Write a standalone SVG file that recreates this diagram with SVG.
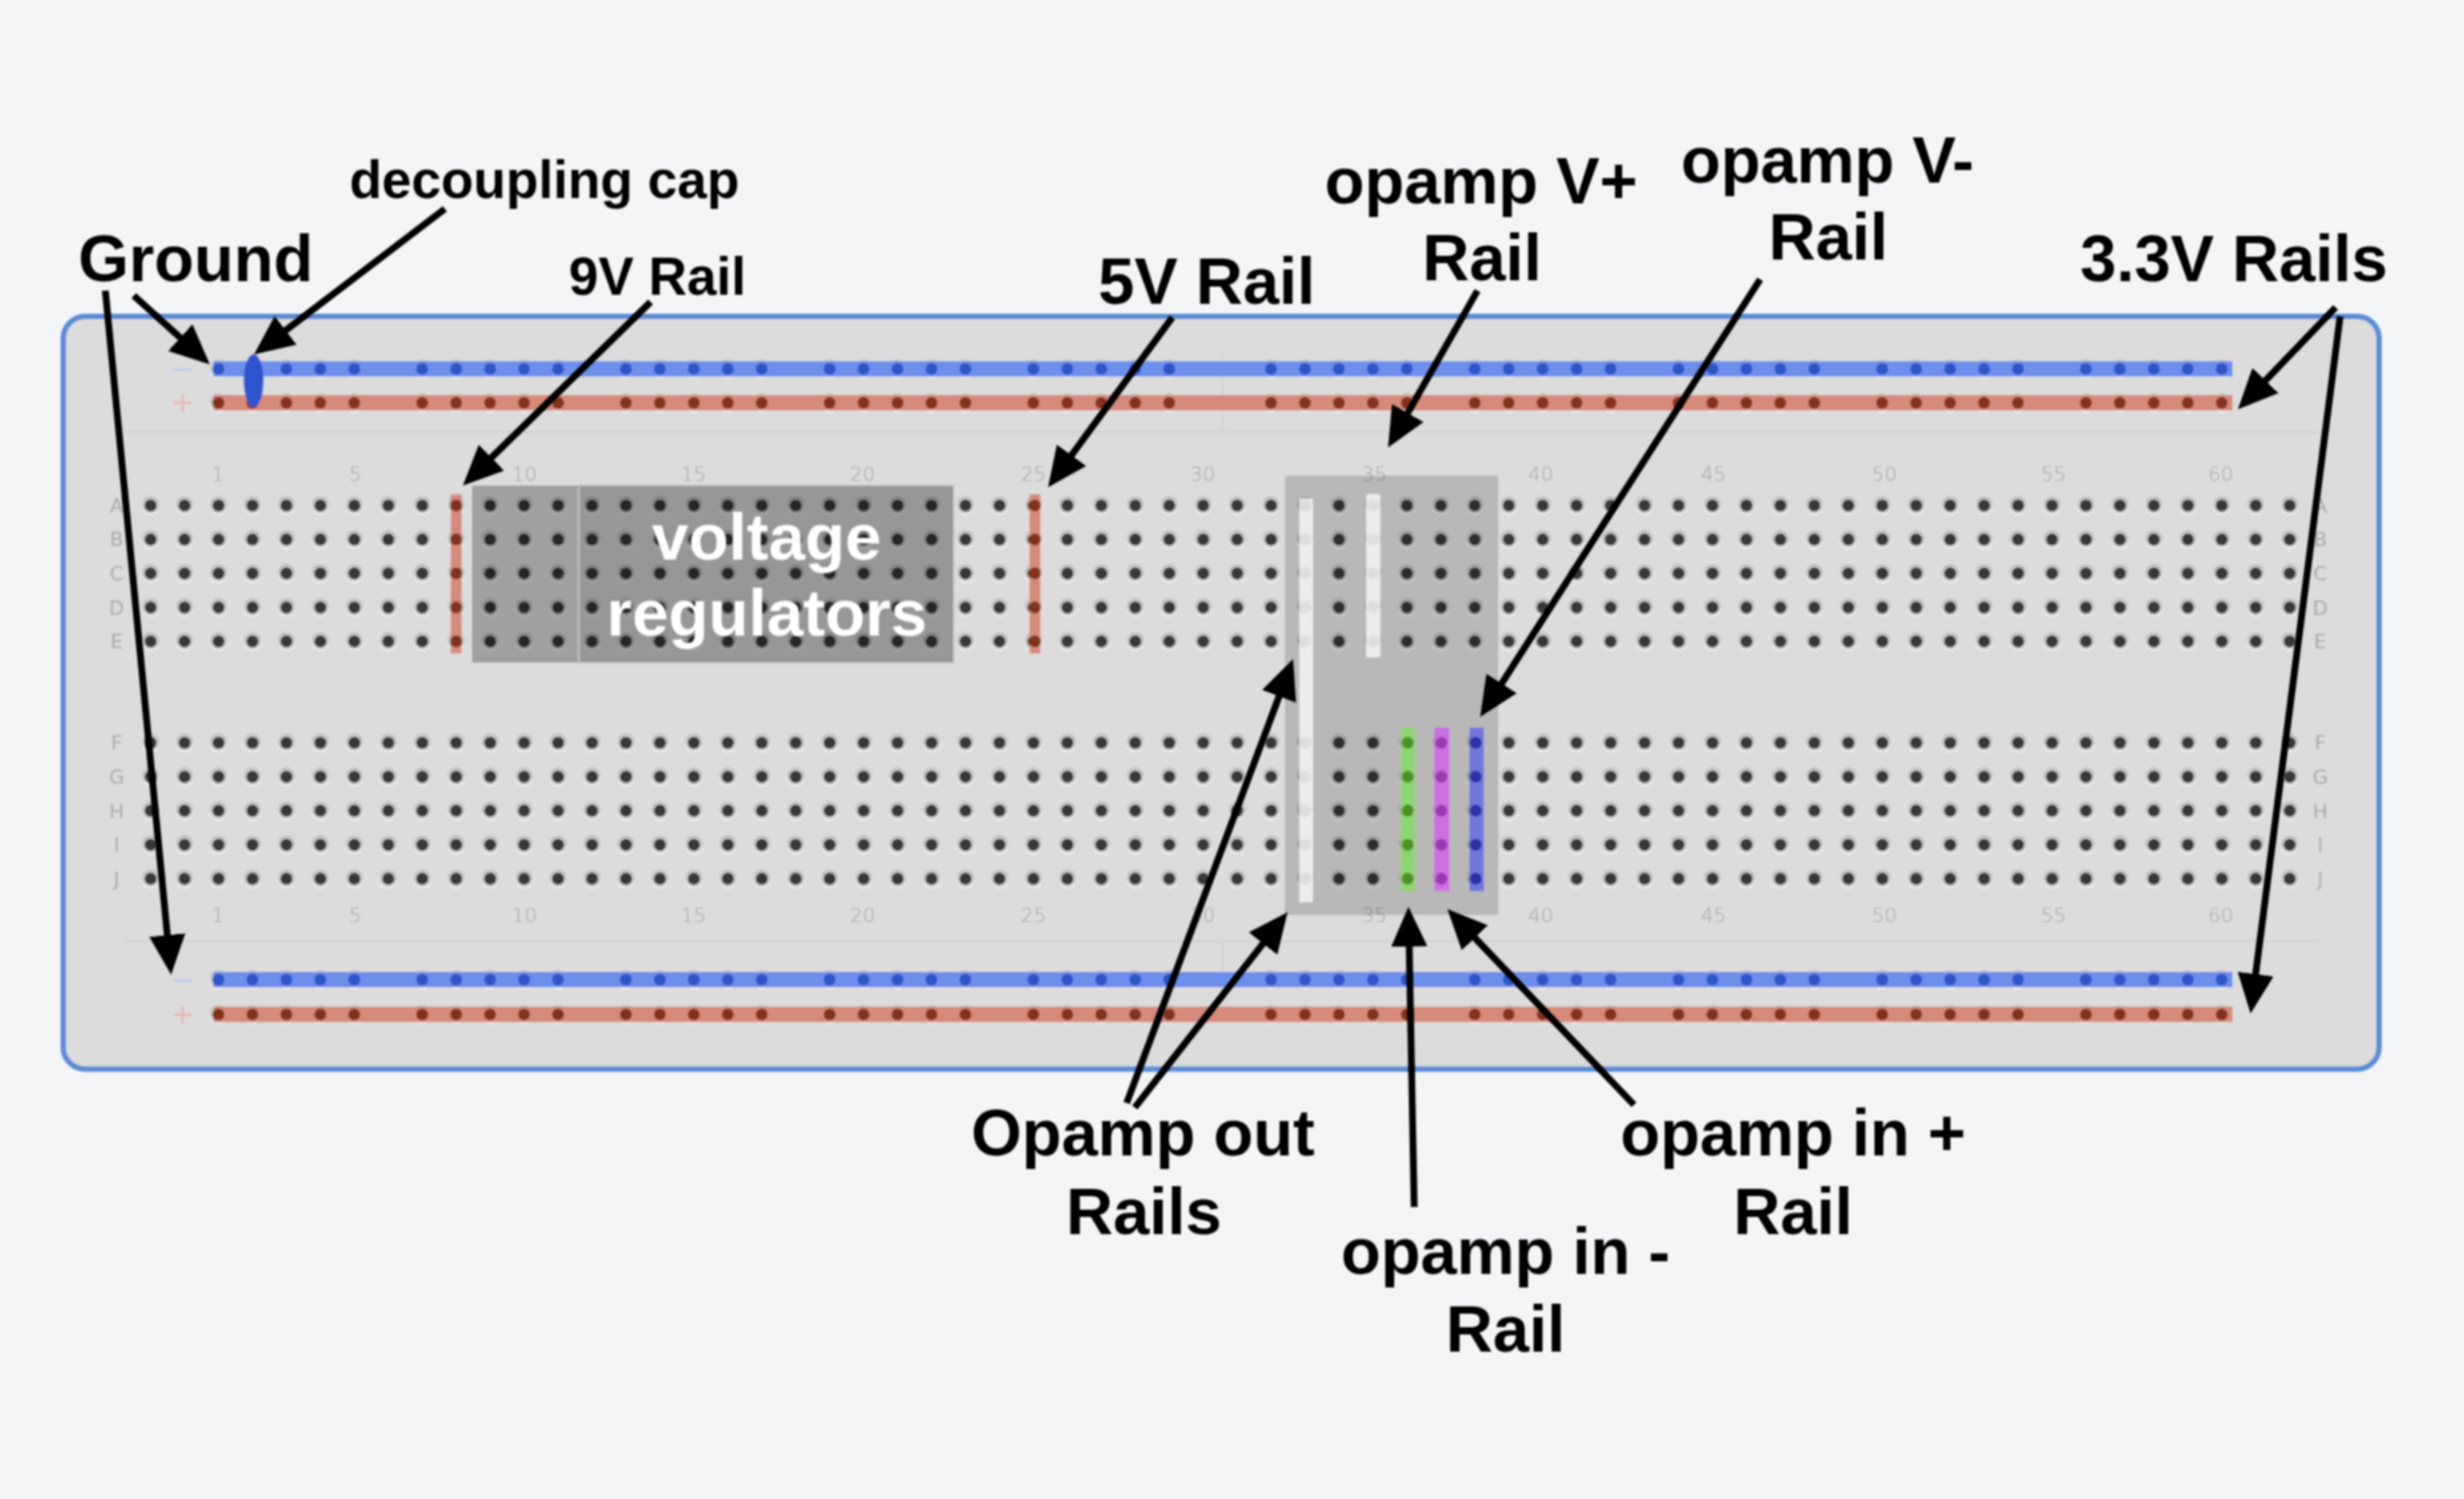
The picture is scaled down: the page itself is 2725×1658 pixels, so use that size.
<svg xmlns="http://www.w3.org/2000/svg" xmlns:xlink="http://www.w3.org/1999/xlink" width="2725" height="1658" viewBox="0 0 2725 1658">
<style>
.lbl{font-family:"Liberation Sans",Arial,sans-serif;font-weight:700;fill:#000;text-anchor:middle}
.big{font-size:72px}
.sm{font-size:58.8px}
.num{font-family:"DejaVu Sans","Liberation Sans",sans-serif;font-size:22px;font-weight:200;fill:#9c9c9c;text-anchor:middle}
.let{font-family:"DejaVu Sans","Liberation Sans",sans-serif;font-size:22px;fill:#a8a8a8;text-anchor:middle}
.arrow{stroke:#000;stroke-width:7.5;fill:none;marker-end:url(#head)}
.rv{fill:#d68a7a}
.rb{fill:#6d8fec}
</style>
<defs>
<filter id="soft" filterUnits="userSpaceOnUse" x="0" y="0" width="2725" height="1658"><feGaussianBlur stdDeviation="1.2"/></filter>
<filter id="soft2" filterUnits="userSpaceOnUse" x="0" y="0" width="2725" height="1658"><feGaussianBlur stdDeviation="0.8"/></filter>
<marker id="head" markerUnits="userSpaceOnUse" markerWidth="46" markerHeight="42" refX="10" refY="20" orient="auto"><path d="M0,0L44,20L0,40Z" fill="#000"/></marker>
<g id="halo"><circle cy="1.5" r="10" fill="#e8e8e8"/><circle cy="-1" r="9.5" fill="#c4c4c4"/></g>
<circle id="core" r="6.6" fill="currentColor"/>
<g id="h"><use href="#halo"/><use href="#core" color="#383838"/></g>
<g id="c5"><use href="#h"/><use href="#h" y="37.6"/><use href="#h" y="75.2"/><use href="#h" y="112.8"/><use href="#h" y="150.4"/></g>
<g id="b4"><use href="#c5"/><use href="#c5" x="37.55"/><use href="#c5" x="75.1"/><use href="#c5" x="112.65"/></g>
<g id="b16"><use href="#b4"/><use href="#b4" x="150.2"/><use href="#b4" x="300.4"/><use href="#b4" x="450.6"/></g>
<g id="b64"><use href="#b16"/><use href="#b16" x="600.8"/><use href="#b16" x="1201.6"/><use href="#b16" x="1802.4"/></g>
<g id="hg5"><use href="#halo"/><use href="#halo" x="37.55"/><use href="#halo" x="75.1"/><use href="#halo" x="112.65"/><use href="#halo" x="150.2"/></g>
<g id="hh"><use href="#hg5"/><use href="#hg5" x="225.3"/><use href="#hg5" x="450.6"/><use href="#hg5" x="675.9"/><use href="#hg5" x="901.2"/></g>
<g id="hrail"><use href="#hh"/><use href="#hh" x="1164.05"/></g>
<g id="cg5"><use href="#core"/><use href="#core" x="37.55"/><use href="#core" x="75.1"/><use href="#core" x="112.65"/><use href="#core" x="150.2"/></g>
<g id="ch"><use href="#cg5"/><use href="#cg5" x="225.3"/><use href="#cg5" x="450.6"/><use href="#cg5" x="675.9"/><use href="#cg5" x="901.2"/></g>
<g id="crail"><use href="#ch"/><use href="#ch" x="1164.05"/></g>
<g id="cc"><use href="#core"/><use href="#core" y="37.6"/><use href="#core" y="75.2"/><use href="#core" y="112.8"/><use href="#core" y="150.4"/></g>
</defs>
<rect width="2725" height="1658" fill="#f4f5f7"/>
<g id="board" filter="url(#soft)">
<rect x="70" y="350" width="2561" height="832.5" rx="24" fill="#dcdcdc" stroke="#5b8dd6" stroke-width="6"/>
<g stroke="#d2d2d2" stroke-width="2" fill="none">
<path d="M138,478H2565M138,1041H2565M1352,391V478M1352,1041V1121"/>
</g>
<g id="columnNumbers" class="num">
<text x="241" y="532">1</text><text x="393" y="532">5</text><text x="580" y="532">10</text><text x="767" y="532">15</text><text x="954" y="532">20</text><text x="1143" y="532">25</text><text x="1330" y="532">30</text><text x="1520" y="532">35</text><text x="1704" y="532">40</text><text x="1895" y="532">45</text><text x="2084" y="532">50</text><text x="2271" y="532">55</text><text x="2456" y="532">60</text>
<text x="241" y="1020">1</text><text x="393" y="1020">5</text><text x="580" y="1020">10</text><text x="767" y="1020">15</text><text x="954" y="1020">20</text><text x="1143" y="1020">25</text><text x="1330" y="1020">30</text><text x="1520" y="1020">35</text><text x="1704" y="1020">40</text><text x="1895" y="1020">45</text><text x="2084" y="1020">50</text><text x="2271" y="1020">55</text><text x="2456" y="1020">60</text>
</g>
<g id="rowLetters" class="let">
<text x="129" y="567">A</text><text x="129" y="604">B</text><text x="129" y="642">C</text><text x="129" y="680">D</text><text x="129" y="717">E</text>
<text x="129" y="829">F</text><text x="129" y="867">G</text><text x="129" y="905">H</text><text x="129" y="942">I</text><text x="129" y="980">J</text>
<text x="2566" y="567">A</text><text x="2566" y="604">B</text><text x="2566" y="642">C</text><text x="2566" y="680">D</text><text x="2566" y="717">E</text>
<text x="2566" y="829">F</text><text x="2566" y="867">G</text><text x="2566" y="905">H</text><text x="2566" y="942">I</text><text x="2566" y="980">J</text>
</g>
<g id="railSigns" font-family="DejaVu Sans, sans-serif" font-size="32" text-anchor="middle">
<text x="202" y="418.5" fill="#b5cbea">−</text><text x="202" y="456" fill="#ebb6b0">+</text>
<text x="202" y="1095" fill="#b5cbea">−</text><text x="202" y="1132.5" fill="#ebb6b0">+</text>
</g>
<g id="rails">
<use href="#hrail" x="241.6" y="408"/><use href="#hrail" x="241.6" y="445.5"/><use href="#hrail" x="241.6" y="1083.5"/><use href="#hrail" x="241.6" y="1122"/>
<rect class="rb" x="236" y="399.5" width="2233" height="17"/><rect class="rv" x="236" y="437" width="2233" height="17"/>
<rect class="rb" x="236" y="1075" width="2233" height="17"/><rect class="rv" x="236" y="1113.5" width="2233" height="17"/>
<use href="#crail" x="241.6" y="408" color="#2e55c8"/><use href="#crail" x="241.6" y="445.5" color="#85301f"/><use href="#crail" x="241.6" y="1083.5" color="#2e55c8"/><use href="#crail" x="241.6" y="1122" color="#85301f"/>
</g>
<g id="holes"><use href="#b64" x="166.6" y="559"/><use href="#b64" x="166.6" y="821.5"/></g>
<g id="rail9V"><rect class="rv" x="498.5" y="546.7" width="12" height="176"/><use href="#cc" x="504.5" y="559" color="#85301f"/></g>
<rect id="regA" x="522" y="537" width="117.5" height="196" fill="#000" opacity=".27"/>
<rect id="regB" x="640" y="536.5" width="415" height="197" fill="#000" opacity=".31" stroke="#aaa" stroke-width="2"/>
<g id="rail5V"><rect class="rv" x="1138.5" y="546.7" width="12" height="176"/><use href="#cc" x="1144.5" y="559" color="#85301f"/></g>
<rect id="opampBox" x="1421" y="526" width="236" height="486" fill="#000" opacity=".16"/>
<g id="opampRails">
<rect x="1437" y="551.5" width="15" height="446.5" fill="#f2f2f2" opacity=".9"/>
<rect x="1511" y="546.5" width="15.5" height="180.5" fill="#f2f2f2" opacity=".9"/>
<rect x="1549" y="804.7" width="16" height="181" fill="#8fd572"/><use href="#cc" x="1556.8" y="821.5" color="#4f9020"/>
<rect x="1586" y="804.7" width="17" height="181" fill="#cc70e0"/><use href="#cc" x="1594" y="821.5" color="#9c38b0"/>
<rect x="1625" y="804.7" width="16" height="181" fill="#7078dc"/><use href="#cc" x="1632" y="821.5" color="#2a30a8"/>
</g>
<ellipse id="decouplingCap" cx="280.5" cy="421" rx="11" ry="29.5" fill="#2f55d0"/>
</g>
<g id="connectors" filter="url(#soft2)">
<line class="arrow" x1="148" y1="327" x2="206.8" y2="380.2"/>
<line class="arrow" x1="492" y1="231" x2="308" y2="371.4"/>
<line class="arrow" x1="719.5" y1="334" x2="536.3" y2="513.2"/>
<line class="arrow" x1="1296.5" y1="351" x2="1179.1" y2="511.6"/>
<line class="arrow" x1="1634" y1="321.5" x2="1551.9" y2="465.5"/>
<line class="arrow" x1="1946.6" y1="309" x2="1655.3" y2="764.4"/>
<line class="arrow" x1="116.5" y1="321.5" x2="186" y2="1044.2"/>
<line class="arrow" x1="2583" y1="340" x2="2498.5" y2="428.1"/>
<line class="arrow" x1="2588" y1="350" x2="2493.3" y2="1087.3"/>
<line class="arrow" x1="1246" y1="1220" x2="1418.1" y2="760.9"/>
<line class="arrow" x1="1255" y1="1225" x2="1403" y2="1035.8"/>
<line class="arrow" x1="1564" y1="1335" x2="1558.3" y2="1037"/>
<line class="arrow" x1="1807" y1="1222" x2="1624.2" y2="1030.1"/>
</g>
<g id="labels" filter="url(#soft2)">
<g id="voltageRegulators" style="font-family:'Liberation Sans',Arial,sans-serif;font-weight:700;font-size:72.5px;text-anchor:middle;fill:#fff"><text x="848" y="618.5">voltage</text><text x="848" y="703">regulators</text></g>
<text id="decoupling" class="lbl sm" x="602" y="219">decoupling cap</text>
<text id="ground" class="lbl big" x="216.5" y="311">Ground</text>
<text id="rail9VLabel" class="lbl sm" x="727" y="325.5">9V Rail</text>
<text id="rail5VLabel" class="lbl big" x="1334.5" y="335.5">5V Rail</text>
<g id="vPlus" class="lbl big"><text x="1638" y="224.5">opamp V+</text><text x="1639" y="309.5">Rail</text></g>
<g id="vMinus" class="lbl big"><text x="2021" y="202">opamp V-</text><text x="2022" y="287">Rail</text></g>
<text id="rails33" class="lbl big" x="2470.5" y="311">3.3V Rails</text>
<g id="opOut" class="lbl big"><text x="1264" y="1278">Opamp out</text><text x="1265" y="1364.5">Rails</text></g>
<g id="inMinus" class="lbl big"><text x="1665" y="1409">opamp in -</text><text x="1665" y="1495">Rail</text></g>
<g id="inPlus" class="lbl big"><text x="1983" y="1278">opamp in +</text><text x="1983" y="1364.5">Rail</text></g>
</g>
</svg>
